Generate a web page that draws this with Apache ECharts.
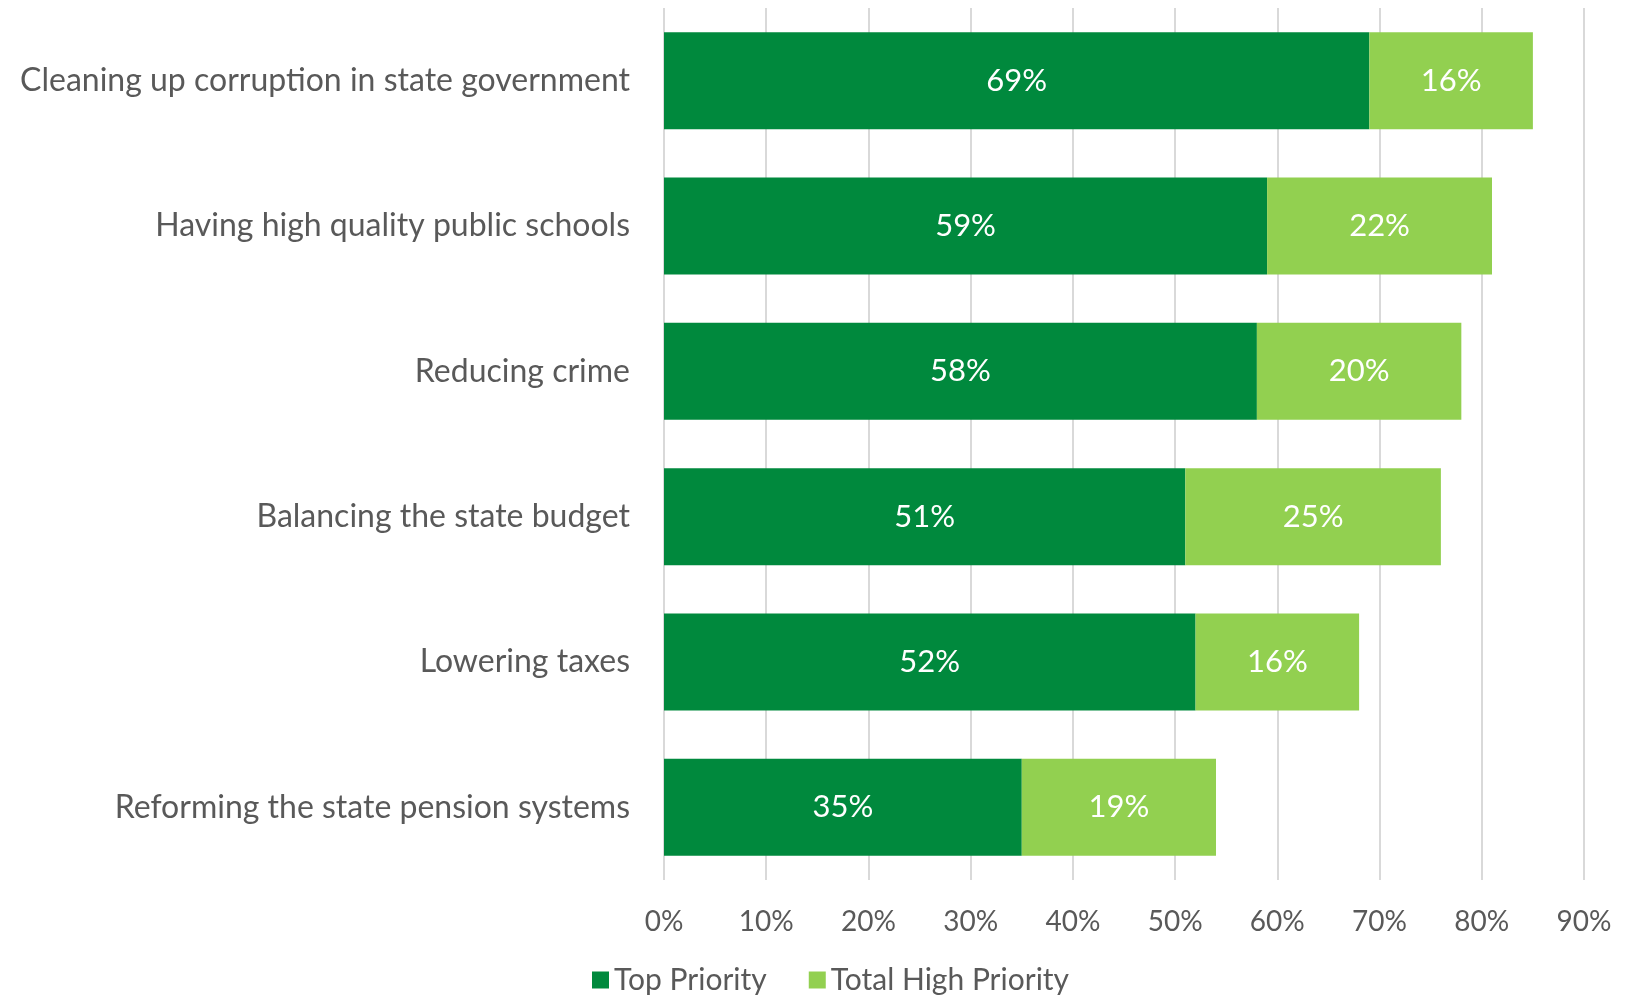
<!DOCTYPE html>
<html>
<head>
<meta charset="utf-8">
<script src="https://cdn.jsdelivr.net/npm/echarts@6/dist/echarts.min.js"></script>
<style>html,body{margin:0;padding:0;background:#fff}#c{width:1633px;height:996px}</style>
</head>
<body>
<div id="c"></div>
<script>
const categories = [
  "Cleaning up corruption in state government",
  "Having high quality public schools",
  "Reducing crime",
  "Balancing the state budget",
  "Lowering taxes",
  "Reforming the state pension systems"
];
const topPriority = [69, 59, 58, 51, 52, 35];
const totalHighPriority = [16, 22, 20, 25, 16, 19];
const xTicks = [0, 10, 20, 30, 40, 50, 60, 70, 80, 90];

const FONT = "Lato";
const chart = echarts.init(document.getElementById('c'), null, {renderer: 'canvas'});
const labelCfg = {
  show: true, position: 'inside', color: '#ffffff', fontFamily: FONT, fontSize: 31,
  formatter: p => p.value + '%'
};
chart.setOption({
  animation: false,
  textStyle: {fontFamily: FONT},
  grid: {left: 664, right: 49, top: 8, bottom: 116, containLabel: false},
  xAxis: {
    type: 'value', min: xTicks[0], max: xTicks[xTicks.length - 1], interval: 10,
    axisLine: {show: false}, axisTick: {show: false},
    splitLine: {show: true, lineStyle: {color: '#d9d9d9', width: 2}},
    axisLabel: {color: '#595959', fontSize: 28, fontFamily: FONT, margin: 28, formatter: v => v + '%'}
  },
  yAxis: {
    type: 'category', data: categories, inverse: true,
    axisLine: {show: false}, axisTick: {show: false},
    axisLabel: {color: '#595959', fontSize: 32, fontFamily: FONT, margin: 34}
  },
  legend: {
    bottom: -4, left: 587, itemWidth: 17, itemHeight: 17, itemGap: 42,
    icon: 'rect',
    textStyle: {color: '#595959', fontSize: 30, fontFamily: FONT},
    data: ['Top Priority', 'Total High Priority']
  },
  series: [
    {name: 'Top Priority', type: 'bar', stack: 'a', data: topPriority, barWidth: 97,
     itemStyle: {color: '#00893d'}, label: labelCfg},
    {name: 'Total High Priority', type: 'bar', stack: 'a', data: totalHighPriority, barWidth: 97,
     itemStyle: {color: '#92d050'}, label: labelCfg}
  ]
});
</script>
</body>
</html>
